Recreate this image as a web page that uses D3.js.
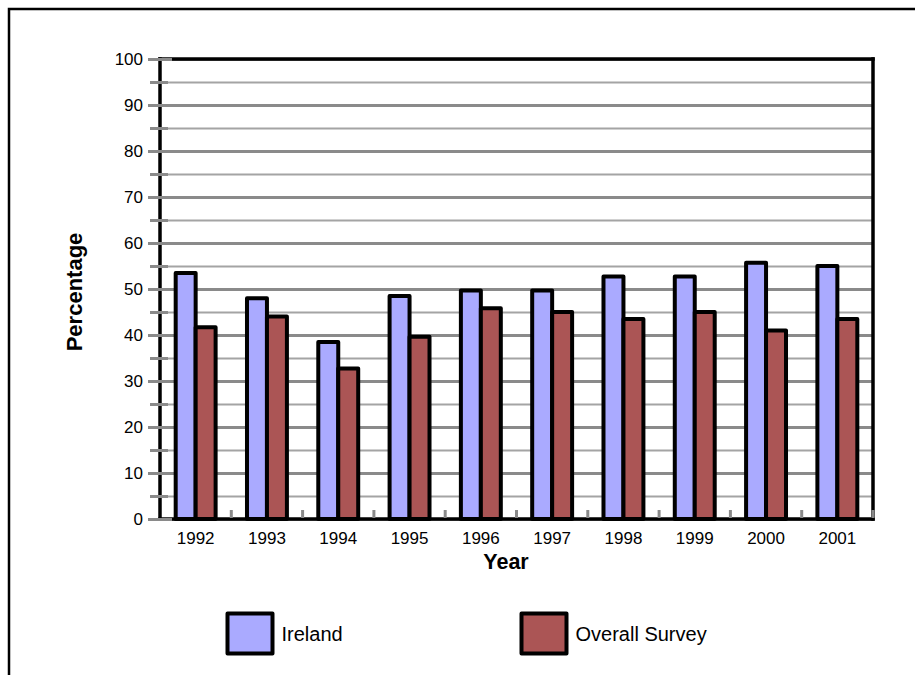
<!DOCTYPE html>
<html>
<head>
<meta charset="utf-8">
<script src="https://cdn.jsdelivr.net/npm/d3@7"></script>
<style>
  body { margin: 0; background: #fff; }
  svg { display: block; font-family: "Liberation Sans", Arial, sans-serif; }
</style>
</head>
<body>
<svg id="barChart" width="915" height="675"></svg>
<script>
// data
const years = ["1992", "1993", "1994", "1995", "1996", "1997", "1998", "1999", "2000", "2001"];
const irelandValues = [53.5, 48, 38.5, 48.5, 49.7, 49.7, 52.7, 52.7, 55.7, 55];
const overallValues = [41.7, 44, 32.7, 39.6, 45.8, 45, 43.5, 45, 41, 43.5];
const seriesNames = ["Ireland", "Overall Survey"];
const yMajorTicks = [0, 10, 20, 30, 40, 50, 60, 70, 80, 90, 100];
const yMinorTicks = [5, 15, 25, 35, 45, 55, 65, 75, 85, 95];

const seriesColors = ["#aaaaff", "#ab5555"];

/**
 *  draws the grouped bar chart
 */
function drawBarChart(){

  // plot area
  let plot = {left: 160, right: 873, top: 59, bottom: 519},
      width = plot.right - plot.left;

  let svg = d3.select("#barChart");

  // outer frame (right / bottom edges fall outside the window)
  svg.append("rect")
     .attr("x", 9).attr("y", 9)
     .attr("width", 930).attr("height", 700)
     .attr("fill", "none")
     .attr("stroke", "#000")
     .attr("stroke-width", 2.5);

  let x = d3.scaleBand()
            .domain(years)
            .range([plot.left, plot.right]);

  let x1 = d3.scaleBand()
             .domain(seriesNames)
             .range([x.bandwidth() * 0.22, x.bandwidth() * 0.78]);

  let y = d3.scaleLinear()
            .domain([0, 100])
            .range([plot.bottom, plot.top]);

  // minor gridlines
  svg.append("g")
     .attr("transform", "translate(" + plot.left + ",0)")
     .call(d3.axisLeft(y).tickValues(yMinorTicks).tickSize(-width).tickFormat(""))
     .call(g => g.select(".domain").remove())
     .call(g => g.selectAll("line").attr("stroke", "#a4a4a4").attr("stroke-width", 2));

  // major gridlines
  svg.append("g")
     .attr("transform", "translate(" + plot.left + ",0)")
     .call(d3.axisLeft(y).tickValues(yMajorTicks).tickSize(-width).tickFormat(""))
     .call(g => g.select(".domain").remove())
     .call(g => g.selectAll("line").attr("stroke", "#8a8a8a").attr("stroke-width", 3));

  // frame of the plot area
  let frame = svg.append("g")
                 .attr("stroke", "#000")
                 .attr("stroke-width", 3.5)
                 .attr("stroke-linecap", "square");
  frame.append("line")   // y axis
       .attr("x1", plot.left).attr("x2", plot.left)
       .attr("y1", y(0)).attr("y2", y(100));
  frame.append("line")   // top
       .attr("x1", plot.left).attr("x2", plot.right)
       .attr("y1", y(100)).attr("y2", y(100));
  frame.append("line")   // right
       .attr("x1", plot.right).attr("x2", plot.right)
       .attr("y1", y(0)).attr("y2", y(100));
  frame.append("line")   // x axis
       .attr("x1", plot.left).attr("x2", plot.right)
       .attr("y1", y(0)).attr("y2", y(0));

  // x tick marks between the categories
  svg.append("g")
     .selectAll("line")
     .data(years)
     .join("line")
     .attr("x1", d => x(d) + x.bandwidth())
     .attr("x2", d => x(d) + x.bandwidth())
     .attr("y1", y(0) - 9)
     .attr("y2", y(0) - 1)
     .attr("stroke", "#8a8a8a")
     .attr("stroke-width", 3);

  // add the bars
  let groups = svg.append("g")
                  .selectAll("g")
                  .data(years.map((yr, i) => ({year: yr, values: [irelandValues[i], overallValues[i]]})))
                  .join("g")
                  .attr("transform", d => "translate(" + x(d.year) + ",0)");

  groups.selectAll("rect")
        .data(d => d.values.map((v, i) => ({name: seriesNames[i], value: v, idx: i})))
        .join("rect")
        .attr("x", d => x1(d.name))
        .attr("y", d => y(d.value))
        .attr("width", x1.bandwidth())
        .attr("height", d => y(0) - y(d.value))
        .attr("fill", d => seriesColors[d.idx])
        .attr("stroke", "#000")
        .attr("stroke-width", 4)
        .attr("stroke-linejoin", "round");

  // Y axis major ticks + labels (ticks cross the axis line)
  svg.append("g")
     .attr("transform", "translate(" + (plot.left + 12) + ",0)")
     .call(d3.axisLeft(y).tickValues(yMajorTicks).tickSize(24).tickPadding(5))
     .call(g => g.select(".domain").remove())
     .call(g => g.selectAll("line").attr("stroke", "#8a8a8a").attr("stroke-width", 3))
     .call(g => g.selectAll("text")
                 .attr("fill", "#000")
                 .attr("font-size", "17px")
                 .attr("font-family", "'Liberation Sans', Arial, sans-serif"));

  // Y axis minor ticks
  svg.append("g")
     .attr("transform", "translate(" + (plot.left + 8) + ",0)")
     .call(d3.axisLeft(y).tickValues(yMinorTicks).tickSize(18).tickFormat(""))
     .call(g => g.select(".domain").remove())
     .call(g => g.selectAll("line").attr("stroke", "#8a8a8a").attr("stroke-width", 3));

  // add X axis labels
  svg.append("g")
     .attr("transform", "translate(0," + plot.bottom + ")")
     .call(d3.axisBottom(x).tickSize(0).tickPadding(13))
     .call(g => g.select(".domain").remove())
     .call(g => g.selectAll("text")
                 .attr("fill", "#000")
                 .attr("font-size", "17px")
                 .attr("font-family", "'Liberation Sans', Arial, sans-serif"));

  // axis titles
  svg.append("text")
     .attr("x", 506)
     .attr("y", 569)
     .attr("text-anchor", "middle")
     .attr("font-size", "21.5px")
     .attr("font-weight", "bold")
     .text("Year");

  svg.append("text")
     .attr("transform", "translate(82,292) rotate(-90)")
     .attr("text-anchor", "middle")
     .attr("font-size", "22px")
     .attr("font-weight", "bold")
     .text("Percentage");

  // legend
  let lx = d3.scalePoint()
             .domain(seriesNames)
             .range([227.5, 521.5]);

  let legend = svg.append("g")
                  .selectAll("g")
                  .data(seriesNames)
                  .join("g")
                  .attr("transform", d => "translate(" + lx(d) + ",613.5)");

  legend.append("rect")
        .attr("width", 45)
        .attr("height", 40)
        .attr("fill", (d, i) => seriesColors[i])
        .attr("stroke", "#000")
        .attr("stroke-width", 4)
        .attr("stroke-linejoin", "round");

  legend.append("text")
        .attr("x", 54)
        .attr("y", 27)
        .attr("font-size", "20px")
        .text(d => d);

} // end of drawBarChart

drawBarChart();
</script>
</body>
</html>
